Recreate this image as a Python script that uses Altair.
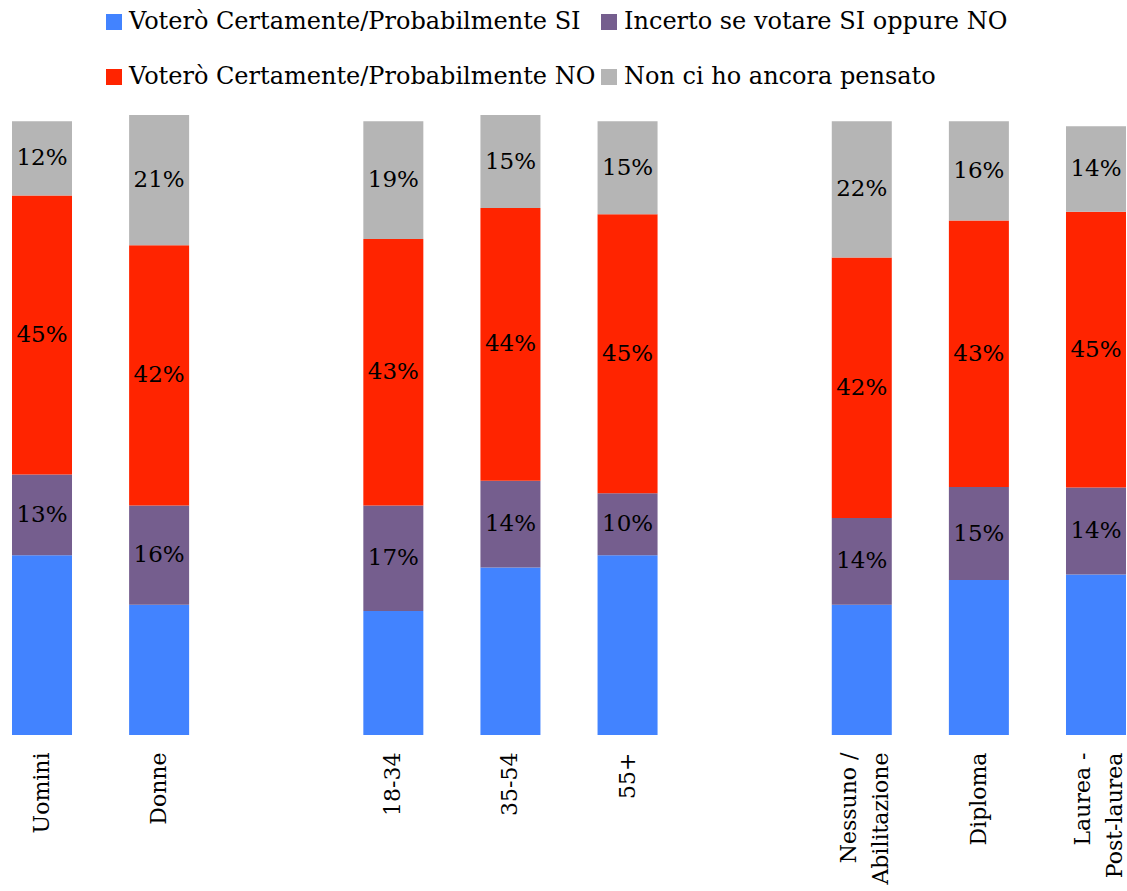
import altair as alt
import pandas as pd

categories = ["Uomini", "Donne", "18-34", "35-54", "55+",
              "Nessuno /\nAbilitazione", "Diploma", "Laurea -\nPost-laurea"]
x_domain = ["Uomini", "Donne", " ", "18-34", "35-54", "55+", "  ",
            "Nessuno /\nAbilitazione", "Diploma", "Laurea -\nPost-laurea"]

series = ["Voterò Certamente/Probabilmente SI",
          "Incerto se votare SI oppure NO",
          "Voterò Certamente/Probabilmente NO",
          "Non ci ho ancora pensato"]
colors = ["#4283ff", "#755e8e", "#ff2400", "#b5b5b5"]

si = [29, 21, 20, 27, 29, 21, 25, 25.9]
incerto = [13, 16, 17, 14, 10, 14, 15, 14]
no = [45, 42, 43, 44, 45, 42, 43, 44.5]
non_pensato = [12, 21, 19, 15, 15, 22, 16, 13.8]

rows = []
for i, c in enumerate(categories):
    for j, vals in enumerate([si, incerto, no, non_pensato]):
        rows.append({"cat": c, "serie": series[j], "v": vals[i], "ord": j})
df = pd.DataFrame(rows)

FONT = "DejaVu Serif"

x_enc = alt.X(
    "cat:N",
    scale=alt.Scale(domain=x_domain, paddingInner=0.4876, paddingOuter=0),
    axis=alt.Axis(
        title=None, labelAngle=270, labelAlign="right", labelBaseline="middle",
        domain=False, ticks=False, labelPadding=17, labelFont=FONT,
        labelFontSize=22, labelColor="black", labelLineHeight=32,
        labelExpr="split(datum.label, '\\n')", labelLimit=300,
        labelOffset={"condition": {"test": "indexof(datum.value, '\\n') >= 0",
                                   "value": -13},
                     "value": 0},
    ),
)
y_scale = alt.Scale(domain=[0, 100], nice=False)

bars = alt.Chart(df).mark_bar().encode(
    x=x_enc,
    y=alt.Y("v:Q", stack="zero", scale=y_scale, axis=None),
    color=alt.Color(
        "serie:N",
        scale=alt.Scale(domain=series, range=colors),
        legend=alt.Legend(
            title=None, orient="none", legendX=90, legendY=-105, columns=2,
            direction="horizontal",
            symbolType="square", symbolSize=256, symbolStrokeWidth=0,
            labelFont=FONT, labelFontSize=24, labelColor="black",
            labelLimit=600, columnPadding=1, rowPadding=31, labelOffset=3,
            padding=0,
        ),
    ),
    order=alt.Order("ord:Q", sort="ascending"),
)

text = alt.Chart(df).transform_stack(
    stack="v", groupby=["cat"], as_=["v0", "v1"],
    sort=[alt.SortField("ord", order="ascending")],
).transform_calculate(
    mid="(datum.v0 + datum.v1) / 2", lab="round(datum.v) + '%'"
).transform_filter("datum.ord > 0").mark_text(
    font=FONT, fontSize=23, color="black", baseline="middle"
).encode(
    x=x_enc,
    y=alt.Y("mid:Q", scale=y_scale, axis=None),
    text="lab:N",
)

chart = alt.layer(bars, text).properties(
    width=1114, height=620,
    autosize=alt.AutoSizeParams(type="none"),
    padding={"left": 12, "top": 115, "right": 1, "bottom": 156},
).configure_view(stroke=None)

chart.save("out.html", embed_options={"renderer": "svg", "actions": False})
